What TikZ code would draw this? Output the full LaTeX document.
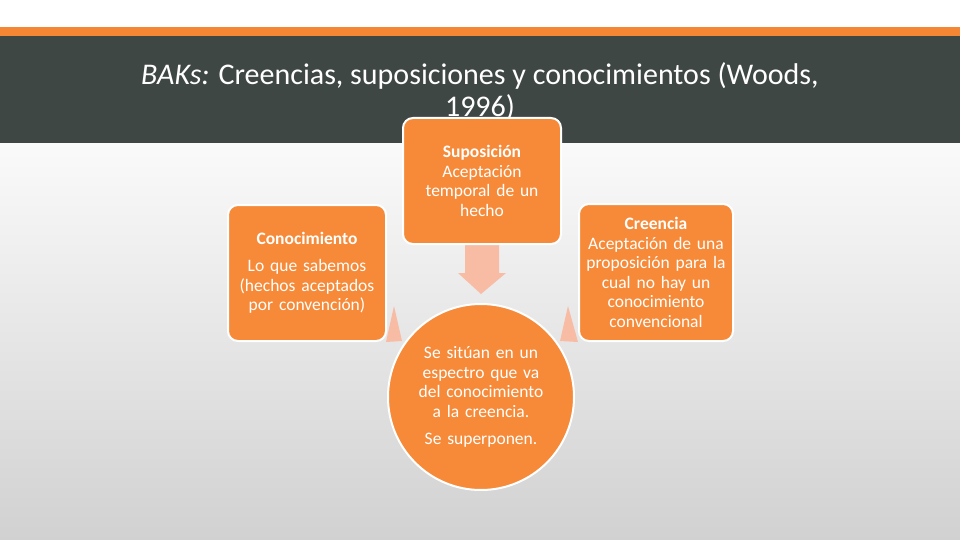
\documentclass[tikz,border=0pt]{standalone}
\usepackage{fontspec}
\setmainfont{Carlito}
\usetikzlibrary{calc}
\definecolor{boxOrange}{HTML}{F68A38}
\definecolor{barOrange}{HTML}{F58634}
\definecolor{arrowPink}{HTML}{F8BBA4}
\definecolor{chalk}{HTML}{3F4745}
\pgfdeclarelayer{bg}
\pgfdeclarelayer{mid}
\pgfsetlayers{bg,mid,main}
\tikzset{
	bakBox/.style={draw=white, line width=2pt, fill=boxOrange, rounded corners=10pt,
		text=white, align=center, inner sep=0pt, font=\fontsize{17.5}{19.5}\selectfont},
	bakCircle/.style={circle, draw=white, line width=2pt, fill=boxOrange,
		text=white, align=center, inner sep=0pt, minimum size=186pt, text width=150pt,
		font=\fontsize{17.5}{19.5}\selectfont},
	bakArrow/.style={fill=arrowPink}
}

\begin{document}
\begin{tikzpicture}[x=1pt,y=-1pt]
	\useasboundingbox (0,0) rectangle (960,540);
	\begin{pgfonlayer}{bg}
		\shade[top color=white!98!black, bottom color=white!82!black] (0,143) rectangle (960,540);
		\fill[white] (0,0) rectangle (960,28);
		\fill[barOrange] (0,27) rectangle (960,36);
		\fill[chalk] (0,36) rectangle (960,143);
	\end{pgfonlayer}
	\node[text=white, align=center, font=\fontsize{30}{32}\selectfont] (title) at (480,92)
		{\textit{BAKs:} Creencias, suposiciones y conocimientos (Woods,\\1996)};
	\node[bakBox, text width=152pt, minimum width=158pt, minimum height=126pt] (supo) at (482,181)
		{\textbf{Suposición}\\Aceptación\\temporal de un\\hecho};
	\node[bakBox, text width=152pt, minimum width=158pt, minimum height=136pt] (conoc) at (307,273)
		{\textbf{Conocimiento}\\[7.5pt]Lo que sabemos\\(hechos aceptados\\por convención)};
	\node[bakBox, text width=150pt, minimum width=154pt, minimum height=137pt] (creen) at (656,272.5)
		{\textbf{Creencia}\\Aceptación de una\\proposición para la\\cual no hay un\\conocimiento\\convencional};
	\node[bakCircle] (spec) at (481,397)
		{Se sitúan en un\\espectro que va\\del conocimiento\\a la creencia.\\[7.5pt]Se superponen.};
	\begin{pgfonlayer}{mid}
		% arrow down into the circle
		\fill[bakArrow] ($(supo.south)+(-17,0)$) -- ($(supo.south)+(17,0)$) -- ($(supo.south)+(17,28)$)
			-- ($(supo.south)+(24,28)$) -- ($(spec.north)+(0,-9)$) -- ($(supo.south)+(-24,28)$)
			-- ($(supo.south)+(-17,28)$) -- cycle;
		% arrows from the side boxes
		\fill[bakArrow] ($(conoc.south east)+(-1,0)$) -- ($(conoc.south east)+(7,-36)$)
			-- ($(conoc.south east)+(15,-1)$) -- cycle;
		\fill[bakArrow] ($(creen.south west)+(-18,-1)$) -- ($(creen.south west)+(-10,-36)$)
			-- ($(creen.south west)+(0,0)$) -- cycle;
	\end{pgfonlayer}
\end{tikzpicture}
\end{document}
